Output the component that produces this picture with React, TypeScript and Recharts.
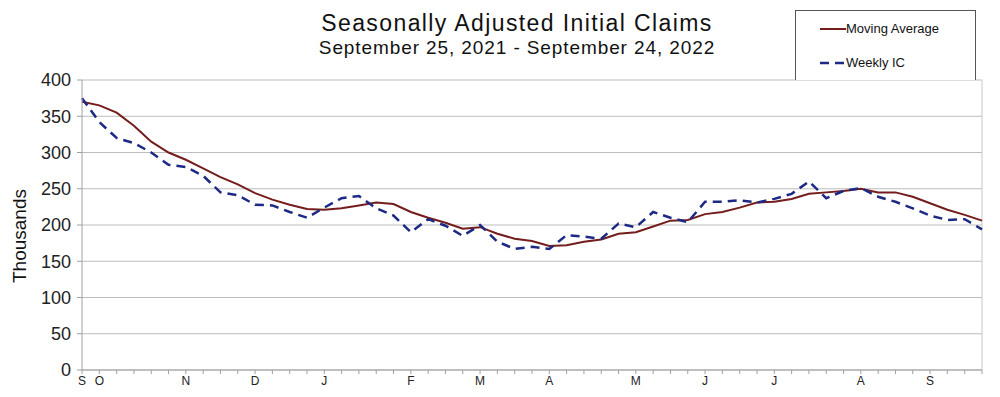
import { LineChart, Line, XAxis, YAxis, CartesianGrid, ReferenceLine } from "recharts"

// week-ending Saturdays, Sep 25 2021 .. Sep 24 2022; a letter marks the first week of each month
const tickLabels = [
  "S", "O", "", "", "", "", "N", "", "", "", "D", "", "", "",
  "J", "", "", "", "", "F", "", "", "", "M", "", "", "", "A",
  "", "", "", "", "M", "", "", "", "J", "", "", "", "J", "",
  "", "", "", "A", "", "", "", "S", "", "", "",
]

const movingAverage = [
  370, 365, 355, 337, 315, 300, 290, 278, 266, 256, 244, 235, 228, 222,
  221, 223, 227, 231, 229, 218, 210, 203, 195, 197, 188, 181, 178, 171,
  172, 177, 180, 188, 190, 198, 206, 207, 215, 218, 224, 231, 232, 236,
  243, 245, 247, 250, 245, 245, 239, 230, 221, 214, 206,
]

const weeklyIC = [
  375, 342, 320, 313, 300, 283, 280, 268, 245, 241, 228, 227, 218, 210,
  224, 237, 240, 223, 213, 190, 208, 199, 185, 200, 177, 167, 170, 167,
  186, 184, 181, 202, 197, 218, 210, 204, 232, 232, 234, 231, 236, 243,
  260, 237, 247, 251, 239, 232, 223, 213, 207, 208, 194,
]

const yTicks = [0, 50, 100, 150, 200, 250, 300, 350, 400]

const data = tickLabels.map((label, i) => ({
  week: i,
  label,
  ma: movingAverage[i],
  ic: weeklyIC[i],
}))

const xTicks = data.map((d) => d.week)

const font = "'Liberation Sans', Arial, sans-serif"
const maColor = "#751c1c"
const icColor = "#1c2a85"

export default function App() {
  return (
    <div style={{ position: "absolute", left: 0, top: 0, width: 1000, height: 397, background: "#fff", fontFamily: font }}>
      <LineChart width={1000} height={397} data={data} margin={{ top: 80, right: 18, bottom: 0, left: 0 }}>
        <CartesianGrid vertical={false} stroke="#bdbdbd" />
        <XAxis
          dataKey="week"
          type="number"
          domain={[0, 52]}
          ticks={xTicks}
          interval={0}
          tickFormatter={(v: number) => tickLabels[v]}
          height={27}
          tickSize={4}
          stroke="#a0a0a0"
          tick={{ fill: "#222", fontSize: 12, fontFamily: font }}
        />
        <YAxis
          domain={[0, 400]}
          ticks={yTicks}
          width={82}
          tickSize={5}
          tickMargin={6}
          stroke="#a0a0a0"
          tick={{ fill: "#222", fontSize: 18, fontFamily: font }}
        />
        <ReferenceLine x={52} stroke="#c8c8c8" />
        <Line
          dataKey="ma"
          stroke={maColor}
          strokeWidth={2}
          dot={false}
          type="linear"
          isAnimationActive={false}
        />
        <Line
          dataKey="ic"
          stroke={icColor}
          strokeWidth={2.5}
          strokeDasharray="9 6"
          dot={false}
          type="linear"
          isAnimationActive={false}
        />
      </LineChart>

      <div style={{ position: "absolute", left: 0, width: 1034, top: 10, textAlign: "center", color: "#111" }}>
        <div style={{ fontSize: 23, lineHeight: "27px", letterSpacing: 1.4 }}>Seasonally Adjusted Initial Claims</div>
        <div style={{ fontSize: 19, lineHeight: "22px", letterSpacing: 0.9 }}>September 25, 2021 - September 24, 2022</div>
      </div>

      <div
        style={{
          position: "absolute",
          left: 20,
          top: 236,
          transform: "translate(-50%, -50%) rotate(-90deg)",
          fontSize: 19,
          color: "#111",
          whiteSpace: "nowrap",
        }}
      >
        Thousands
      </div>

      <div
        style={{
          position: "absolute",
          left: 795,
          top: 10,
          width: 179,
          height: 69,
          border: "1px solid #555",
          borderBottom: "none",
          background: "#fff",
          fontSize: 13,
          color: "#111",
        }}
      >
        <div style={{ position: "absolute", left: 24, top: 10, display: "flex", alignItems: "center" }}>
          <svg width={26} height={4}>
            <line x1={0} y1={2} x2={26} y2={2} stroke={maColor} strokeWidth={2} />
          </svg>
          <span>Moving Average</span>
        </div>
        <div style={{ position: "absolute", left: 24, top: 44, display: "flex", alignItems: "center" }}>
          <svg width={26} height={4}>
            <line x1={0} y1={2} x2={26} y2={2} stroke={icColor} strokeWidth={2.5} strokeDasharray="9 6" />
          </svg>
          <span>Weekly IC</span>
        </div>
      </div>
    </div>
  )
}
